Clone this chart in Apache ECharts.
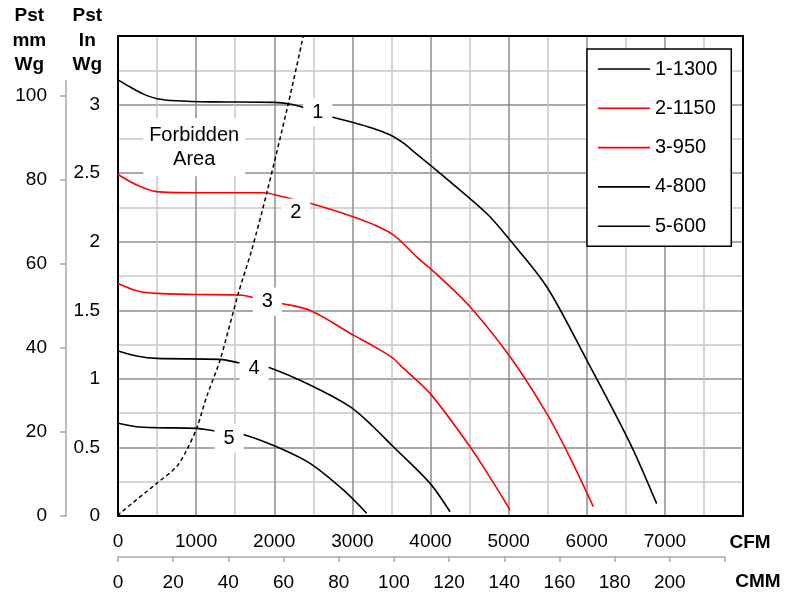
<!DOCTYPE html>
<html>
<head>
<meta charset="utf-8">
<script src="https://cdn.jsdelivr.net/npm/echarts@6/dist/echarts.min.js"></script>
<style>
html,body{margin:0;padding:0;background:#fff;}
#chart{width:800px;height:596px;}
</style>
</head>
<body>
<div id="chart"></div>
<script>
// ---- data ----
const seriesNames = ['1-1300', '2-1150', '3-950', '4-800', '5-600'];
const seriesColors = ['#000000', '#ff0000', '#ff0000', '#000000', '#000000'];
// [CFM, Pst In Wg]
const curve1 = [[0,3.18],[150,3.13],[320,3.078],[500,3.043],[750,3.028],[1200,3.02],[2000,3.016],[2200,3.004],[2370,2.98],[2550,2.945],[2735,2.91],[3010,2.87],[3250,2.83],[3480,2.78],[3650,2.72],[3800,2.65],[4120,2.5],[4720,2.206],[5020,2.01],[5490,1.67],[6000,1.137],[6555,0.53],[6895,0.09]];
const curve2 = [[0,2.49],[239,2.414],[495,2.365],[1000,2.357],[1860,2.357],[2095,2.33],[2275,2.305],[2458,2.28],[2970,2.19],[3250,2.13],[3524,2.05],[3823,1.89],[4122,1.74],[4506,1.526],[5018,1.161],[5487,0.748],[5800,0.41],[6084,0.068]];
const curve3 = [[0,1.696],[239,1.643],[495,1.623],[1000,1.615],[1562,1.611],[1732,1.594],[1912,1.572],[2095,1.55],[2458,1.5],[3012,1.319],[3250,1.245],[3524,1.15],[3610,1.10],[3994,0.894],[4506,0.505],[4780,0.265],[5018,0.044]];
const curve4 = [[0,1.203],[239,1.167],[495,1.149],[1306,1.142],[1540,1.118],[1741,1.1],[1924,1.084],[2458,0.955],[2970,0.797],[3250,0.66],[3524,0.505],[3994,0.238],[4250,0.031]];
const curve5 = [[0,0.676],[239,0.651],[495,0.644],[1007,0.639],[1220,0.622],[1421,0.608],[1604,0.595],[2031,0.505],[2458,0.384],[2884,0.19],[3183,0.02]];
const forbiddenLine = [[0,0],[26,0.02],[495,0.238],[751,0.36],[879,0.481],[1007,0.639],[1135,0.87],[1306,1.137],[1540,1.623],[1711,1.939],[1903,2.352],[2180,3.008],[2372,3.5]];
const curveLabelTexts = ['1', '2', '3', '4', '5'];
const curveLabelPoints = [[2557,2.944],[2275,2.212],[1912,1.563],[1741,1.072],[1421,0.566]];
const forbiddenText = 'Forbidden\nArea';
const forbiddenLabelPoint = [975, 2.689];
const cfmTicks = [0,1000,2000,3000,4000,5000,6000,7000];
const cmmTicks = [0,20,40,60,80,100,120,140,160,180,200];
const inTicks = [0,0.5,1,1.5,2,2.5,3];
const mmTicks = [0,20,40,60,80,100];

const curves = [curve1, curve2, curve3, curve4, curve5];
const FONT = '"Liberation Sans", Arial, Helvetica, sans-serif';

const chart = echarts.init(document.getElementById('chart'));

const lineSeries = curves.map((c, i) => ({
  name: seriesNames[i],
  type: 'line',
  xAxisIndex: 0, yAxisIndex: 0,
  data: c,
  smooth: 0.3,
  symbol: 'none',
  lineStyle: { color: seriesColors[i], width: 1.6 },
  itemStyle: { color: seriesColors[i] },
  z: 3
}));

const option = {
  animation: false,
  backgroundColor: '#fff',
  textStyle: { fontFamily: FONT },
  grid: [
    { left: 118, top: 36, right: 57, bottom: 80 },
    { left: 66, top: 80.7, width: 1, bottom: 80 },
    { left: 118, top: 36, width: 607, bottom: 39 }
  ],
  legend: {
    data: seriesNames,
    orient: 'vertical',
    left: 587, top: 49,
    icon: 'rect',
    itemWidth: 52, itemHeight: 1.6,
    itemGap: 19.3,
    padding: [10, 14, 10, 11],
    borderColor: '#000', borderWidth: 1.5,
    backgroundColor: '#fff',
    textStyle: { fontSize: 20, color: '#000', lineHeight: 20, fontFamily: FONT },
    z: 10
  },
  xAxis: [
    {
      gridIndex: 0, type: 'value', min: 0, max: 8000, interval: 1000, position: 'bottom',
      axisLine: { show: true, onZero: false, lineStyle: { color: '#000', width: 2 } },
      axisTick: { show: false },
      axisLabel: { fontSize: 19, color: '#000', margin: 16, fontFamily: FONT,
        formatter: v => cfmTicks.indexOf(v) >= 0 ? String(v) : '' },
      splitLine: { show: true, showMinLine: false, showMaxLine: false, lineStyle: { color: '#8c8c8c', width: 1.5 } },
      minorTick: { show: false, splitNumber: 2 },
      minorSplitLine: { show: true, lineStyle: { color: '#c8c8c8', width: 1.5 } }
    },
    {
      gridIndex: 0, type: 'value', min: 0, max: 8000, position: 'top',
      axisLine: { show: true, onZero: false, lineStyle: { color: '#000', width: 2 } },
      axisTick: { show: false }, axisLabel: { show: false }, splitLine: { show: false }
    },
    { gridIndex: 1, type: 'value', show: false, min: 0, max: 1 },
    {
      gridIndex: 2, type: 'value', min: 0, max: 220, interval: 20, position: 'bottom',
      axisLine: { show: true, onZero: false, lineStyle: { color: '#a6a6a6', width: 1.5 } },
      axisTick: { show: true, length: 5, lineStyle: { color: '#a6a6a6', width: 1.5 } },
      axisLabel: { fontSize: 19, color: '#000', margin: 16, fontFamily: FONT,
        formatter: v => cmmTicks.indexOf(v) >= 0 ? String(v) : '' },
      splitLine: { show: false }
    }
  ],
  yAxis: [
    {
      gridIndex: 0, type: 'value', min: 0, max: 3.5, interval: 0.5, position: 'left',
      axisLine: { show: true, onZero: false, lineStyle: { color: '#000', width: 2 } },
      axisTick: { show: false },
      axisLabel: { fontSize: 19, color: '#000', margin: 18, fontFamily: FONT,
        formatter: v => inTicks.indexOf(v) >= 0 ? String(v) : '' },
      splitLine: { show: true, showMinLine: false, showMaxLine: false, lineStyle: { color: '#8c8c8c', width: 1.5 } },
      minorTick: { show: false, splitNumber: 2 },
      minorSplitLine: { show: true, lineStyle: { color: '#c8c8c8', width: 1.5 } }
    },
    {
      gridIndex: 0, type: 'value', min: 0, max: 3.5, position: 'right',
      axisLine: { show: true, onZero: false, lineStyle: { color: '#000', width: 2 } },
      axisTick: { show: false }, axisLabel: { show: false }, splitLine: { show: false }
    },
    {
      gridIndex: 1, type: 'value', min: 0, max: 103.7, interval: 20, position: 'left',
      axisLine: { show: true, onZero: false, lineStyle: { color: '#a6a6a6', width: 1.5 } },
      axisTick: { show: true, length: 6, customValues: mmTicks, lineStyle: { color: '#a6a6a6', width: 1.5 } },
      axisLabel: { fontSize: 19, color: '#000', margin: 19, fontFamily: FONT, customValues: mmTicks,
        formatter: v => mmTicks.indexOf(v) >= 0 ? String(v) : '' },
      splitLine: { show: false }
    },
    { gridIndex: 2, type: 'value', show: false, min: 0, max: 1 }
  ],
  series: lineSeries.concat([
    {
      name: 'forbidden', type: 'line', xAxisIndex: 0, yAxisIndex: 0,
      data: forbiddenLine, smooth: 0.3, symbol: 'none',
      lineStyle: { color: '#000', width: 1.5, type: [4, 3] }, z: 3
    },
    {
      name: 'curveLabels', type: 'scatter', xAxisIndex: 0, yAxisIndex: 0,
      data: curveLabelPoints.map((p, i) => ({ value: p, name: curveLabelTexts[i] })),
      symbolSize: 1, z: 6, silent: true,
      itemStyle: { opacity: 1, color: 'rgba(0,0,0,0)' },
      label: { show: true, position: 'inside', formatter: p => p.name,
        fontSize: 20, color: '#000', backgroundColor: '#fff', padding: [4, 9], fontFamily: FONT }
    },
    {
      name: 'forbiddenLabel', type: 'scatter', xAxisIndex: 0, yAxisIndex: 0,
      data: [{ value: forbiddenLabelPoint, name: forbiddenText }],
      symbolSize: 1, z: 6, silent: true,
      itemStyle: { opacity: 1, color: 'rgba(0,0,0,0)' },
      label: { show: true, position: 'inside', formatter: p => p.name,
        fontSize: 20, lineHeight: 24, color: '#000', backgroundColor: '#fff', padding: [5, 6], fontFamily: FONT }
    }
  ]),
  graphic: [
    { type: 'text', x: 29.3, y: 4, style: { text: 'Pst\nmm\nWg', font: 'bold 19px ' + FONT, fill: '#000', align: 'center', verticalAlign: 'top', lineHeight: 24.3 } },
    { type: 'text', x: 87.3, y: 4, style: { text: 'Pst\nIn\nWg', font: 'bold 19px ' + FONT, fill: '#000', align: 'center', verticalAlign: 'top', lineHeight: 24.3 } },
    { type: 'text', x: 750, y: 542.7, style: { text: 'CFM', font: 'bold 19px ' + FONT, fill: '#000', align: 'center', verticalAlign: 'middle' } },
    { type: 'text', x: 758, y: 581.7, style: { text: 'CMM', font: 'bold 19px ' + FONT, fill: '#000', align: 'center', verticalAlign: 'middle' } }
  ]
};
chart.setOption(option);
</script>
</body>
</html>
